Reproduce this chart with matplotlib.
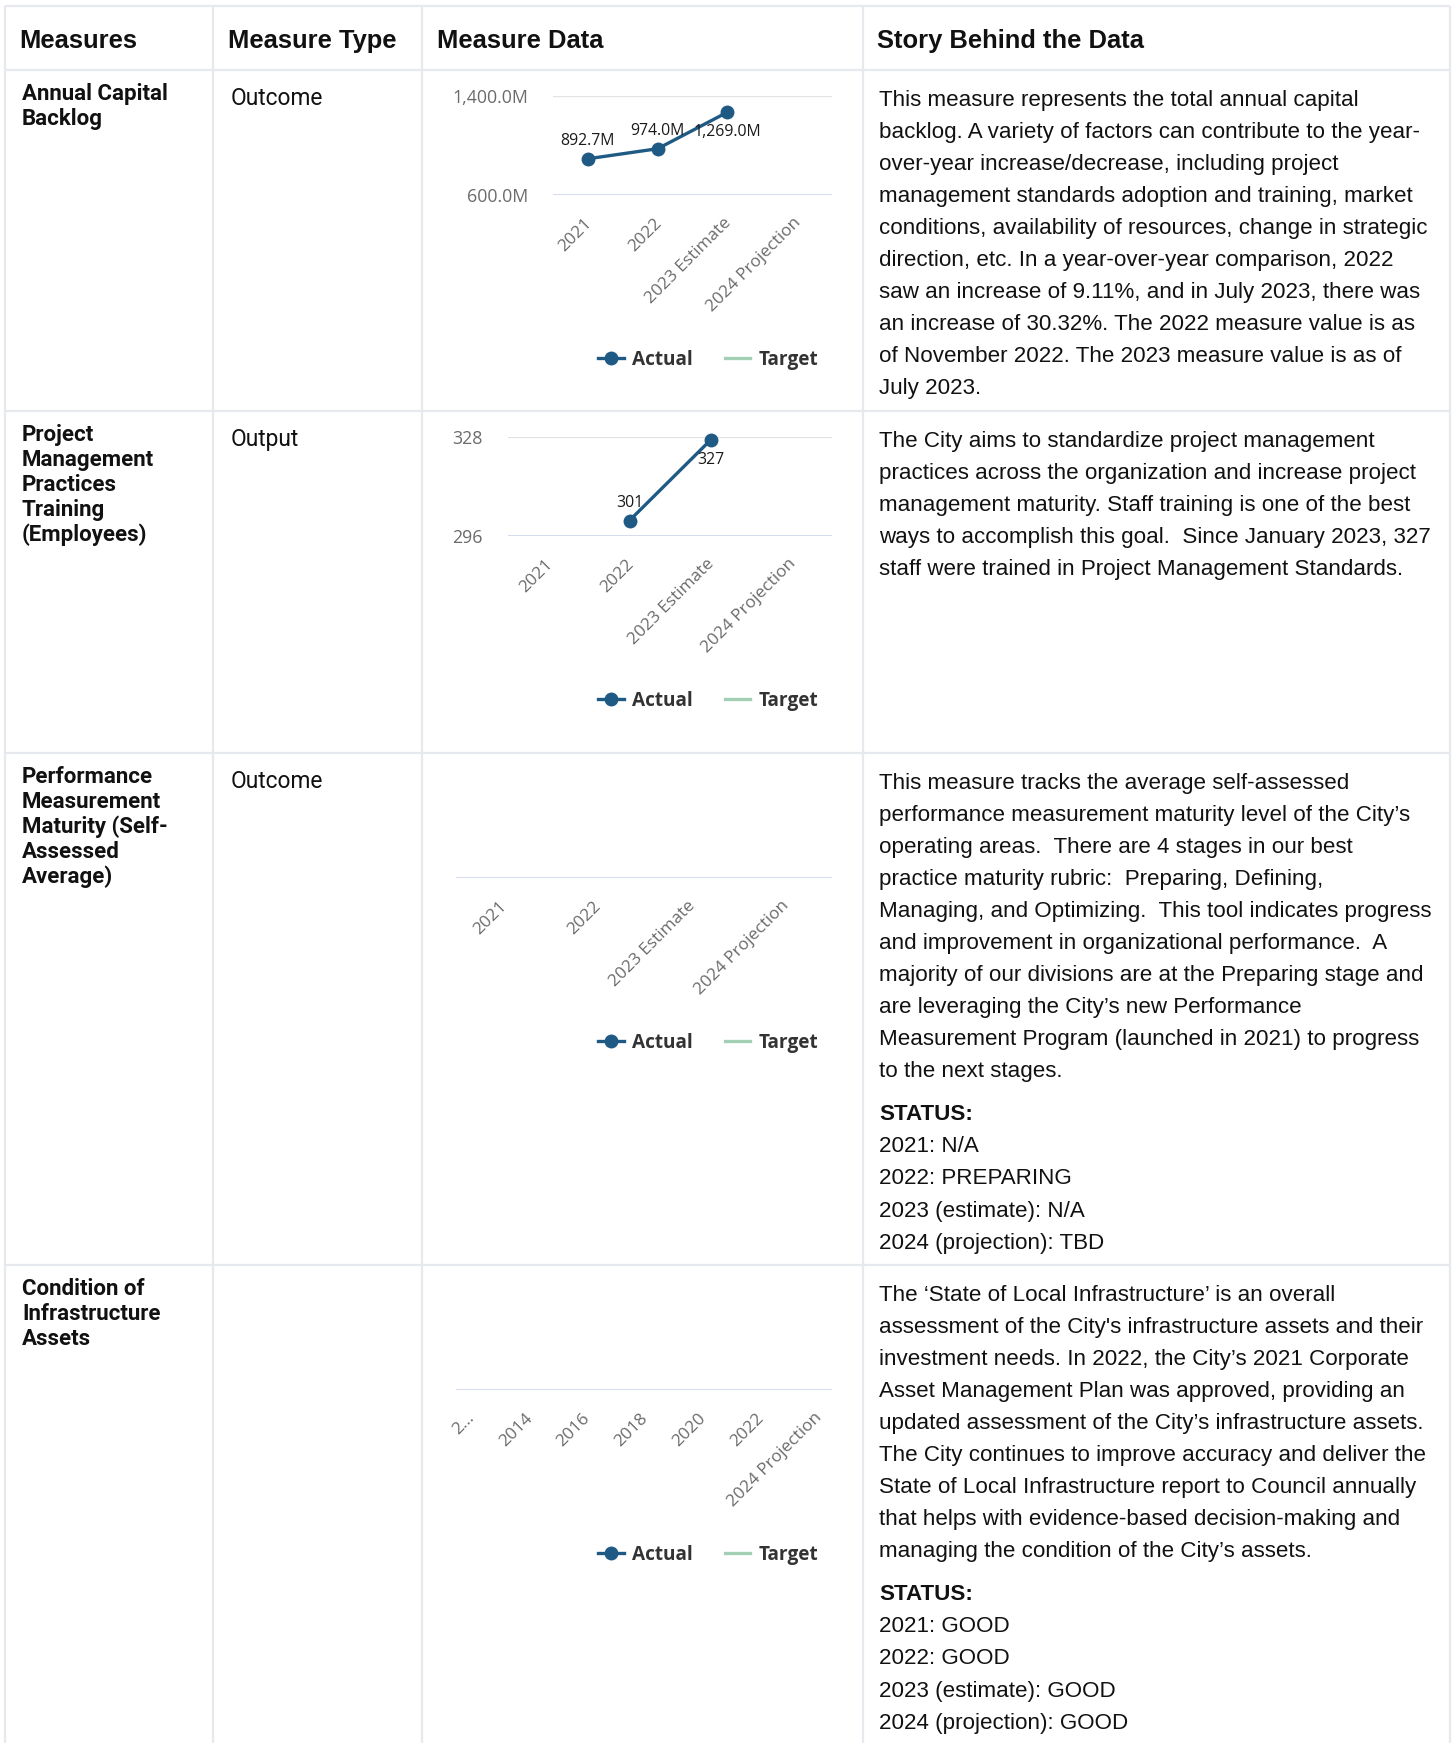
import matplotlib
matplotlib.use("Agg")
import matplotlib.pyplot as plt
from matplotlib.lines import Line2D
from matplotlib.transforms import ScaledTranslation

W, H = 1453, 1743
PT = 0.72  # px -> pt at dpi 100

# ---- table content ----
headers = ["Measures", "Measure Type", "Measure Data", "Story Behind the Data"]

measure_names = [
    ["Annual Capital", "Backlog"],
    ["Project", "Management", "Practices", "Training", "(Employees)"],
    ["Performance", "Measurement", "Maturity (Self-", "Assessed", "Average)"],
    ["Condition of", "Infrastructure", "Assets"],
]
measure_types = ["Outcome", "Output", "Outcome", ""]

story_text = [
    ["This measure represents the total annual capital",
     "backlog. A variety of factors can contribute to the year-",
     "over-year increase/decrease, including project",
     "management standards adoption and training, market",
     "conditions, availability of resources, change in strategic",
     "direction, etc. In a year-over-year comparison, 2022",
     "saw an increase of 9.11%, and in July 2023, there was",
     "an increase of 30.32%. The 2022 measure value is as",
     "of November 2022. The 2023 measure value is as of",
     "July 2023."],
    ["The City aims to standardize project management",
     "practices across the organization and increase project",
     "management maturity. Staff training is one of the best",
     "ways to accomplish this goal.  Since January 2023, 327",
     "staff were trained in Project Management Standards."],
    ["This measure tracks the average self-assessed",
     "performance measurement maturity level of the City\u2019s",
     "operating areas.  There are 4 stages in our best",
     "practice maturity rubric:  Preparing, Defining,",
     "Managing, and Optimizing.  This tool indicates progress",
     "and improvement in organizational performance.  A",
     "majority of our divisions are at the Preparing stage and",
     "are leveraging the City\u2019s new Performance",
     "Measurement Program (launched in 2021) to progress",
     "to the next stages."],
    ["The \u2018State of Local Infrastructure\u2019 is an overall",
     "assessment of the City's infrastructure assets and their",
     "investment needs. In 2022, the City\u2019s 2021 Corporate",
     "Asset Management Plan was approved, providing an",
     "updated assessment of the City\u2019s infrastructure assets.",
     "The City continues to improve accuracy and deliver the",
     "State of Local Infrastructure report to Council annually",
     "that helps with evidence-based decision-making and",
     "managing the condition of the City\u2019s assets."],
]
status_lines = [
    None,
    None,
    ["2021: N/A", "2022: PREPARING", "2023 (estimate): N/A", "2024 (projection): TBD"],
    ["2021: GOOD", "2022: GOOD", "2023 (estimate): GOOD", "2024 (projection): GOOD"],
]

# ---- chart data ----
cats_std = ["2021", "2022", "2023 Estimate", "2024 Projection"]
backlog_actual = [892.7, 974.0, 1269.0, None]          # millions
training_actual = [None, 301, 327, None]               # employees
maturity_actual = [None, None, None, None]
cats_infra = ["2012", "2013", "2014", "2015", "2016", "2017", "2018",
              "2019", "2020", "2021", "2022", "2023", "2024 Projection"]
infra_actual = [None] * len(cats_infra)

backlog_range = (600.0, 1400.0)
training_range = (296, 328)

# ---- layout (pixels) ----
col_x = [5, 213, 422, 863, 1450]
row_y = [6, 70, 411, 753, 1265, H]
GRID = "#e6e9ed"
BLUE = "#1f5a85"
GREEN = "#a3d0b5"

fig = plt.figure(figsize=(W / 100, H / 100), dpi=100)
fig.patch.set_facecolor("white")
bg = fig.add_axes([0, 0, 1, 1])
bg.set_xlim(0, W)
bg.set_ylim(H, 0)
bg.axis("off")

for x in col_x:
    bg.plot([x, x], [row_y[0], H], color=GRID, lw=1.6, solid_capstyle="butt")
for y in row_y[:-1]:
    bg.plot([col_x[0], col_x[-1]], [y, y], color=GRID, lw=1.6, solid_capstyle="butt")

# header
hdr_x = [19, 228, 437, 877]
for x, t in zip(hdr_x, headers):
    bg.text(x, 48, t, fontsize=25.5 * PT, fontweight="bold",
            family="Liberation Sans", color="#111111", va="baseline")

body_font = 22.35 * PT
for r in range(4):
    top = row_y[r + 1]
    for i, ln in enumerate(measure_names[r]):
        bg.text(22, top + 30 + i * 25, ln, fontsize=22.3 * PT, fontweight="bold",
                family="Roboto", color="#111111", va="baseline")
    if measure_types[r]:
        bg.text(231, top + 35, measure_types[r], fontsize=22.7 * PT,
                family="Roboto", color="#111111", va="baseline")
    y = top + 36
    for i, ln in enumerate(story_text[r]):
        bg.text(879, y, ln, fontsize=body_font, family="Liberation Sans",
                color="#111111", va="baseline")
        if i < len(story_text[r]) - 1:
            y += 32
    if status_lines[r]:
        y += 43.5
        bg.text(879, y, "STATUS:", fontsize=body_font, fontweight="bold",
                family="Liberation Sans", color="#111111", va="baseline")
        for ln in status_lines[r]:
            y += 32
            bg.text(879, y, ln, fontsize=body_font, family="Liberation Sans",
                    color="#111111", va="baseline")


def px_axes(x0, y0, x1, y1):
    return fig.add_axes([x0 / W, 1 - y1 / H, (x1 - x0) / W, (y1 - y0) / H])


def draw_chart(row, left, cats, values, yrange=None, fmt=None, tick_every=1,
               first_label=None):
    top = row_y[row + 1]
    ax = px_axes(left, top + 26, 832, top + 125)
    ax.set_facecolor("none")
    n = len(cats)
    ax.set_xlim(-0.5, n - 0.5)
    for s in ax.spines.values():
        s.set_visible(False)
    if yrange is not None:
        lo, hi = yrange
        ax.set_ylim(lo, hi)
        ax.axhline(hi, color="#e3e3e3", lw=1.6, zorder=1)
        ax.axhline(lo, color="#cfd8ec", lw=2.0, zorder=1)
        ax.set_yticks([lo, hi])
        ax.set_yticklabels([fmt(lo), fmt(hi)])
        ax.tick_params(axis="y", length=0, pad=25 * PT, labelsize=17.8 * PT,
                       labelcolor="#6b6b6b")
        for lab in ax.get_yticklabels():
            lab.set_family("Open Sans")
        xs = [i for i, v in enumerate(values) if v is not None]
        ys = [v for v in values if v is not None]
        ax.plot(xs, ys, color=BLUE, lw=2.4, marker="o", ms=9, zorder=3,
                clip_on=False)
        for x, v in zip(xs, ys):
            frac = (v - lo) / (hi - lo)
            dy = -14.5 if frac > 0.8 else 12.5
            ax.annotate(fmt(v), (x, v), xytext=(0, dy), textcoords="offset points",
                        ha="center", va="center", fontsize=15.9 * PT,
                        family="Open Sans", color="#1a1a1a", zorder=4)
    else:
        ax.set_ylim(0, 1)
        ax.axhline(0, color="#cfd8ec", lw=2.0, zorder=1)
        ax.set_yticks([])
    ticks = list(range(0, n, tick_every))
    labels = [cats[i] for i in ticks]
    if first_label is not None:
        labels[0] = first_label
    ax.set_xticks(ticks)
    ax.set_xticklabels(labels, rotation=45, ha="right", va="top",
                       rotation_mode="anchor", family="Open Sans",
                       fontsize=17.3 * PT, color="#6b6b6b")
    ax.tick_params(axis="x", length=0, pad=20 * PT)
    shift = ScaledTranslation(-4 / 100, 0, fig.dpi_scale_trans)
    for lab in ax.get_xticklabels():
        lab.set_transform(lab.get_transform() + shift)

    handles = [Line2D([], [], color=BLUE, lw=2.4, marker="o", ms=9),
               Line2D([], [], color=GREEN, lw=2.4)]
    leg = fig.legend(handles, ["Actual", "Target"], loc="center",
                     bbox_to_anchor=(708 / W, 1 - (top + 290) / H), ncol=2,
                     frameon=False, handlelength=1.35, handletextpad=0.42,
                     columnspacing=1.7,
                     prop={"family": "Open Sans", "weight": "bold",
                           "size": 19 * PT})
    for t in leg.get_texts():
        t.set_color("#333333")
    return ax


draw_chart(0, 553, cats_std, backlog_actual, backlog_range,
           fmt=lambda v: f"{v:,.1f}M")
draw_chart(1, 508, cats_std, training_actual, training_range,
           fmt=lambda v: f"{v:.0f}")
draw_chart(2, 456, cats_std, maturity_actual)
draw_chart(3, 456, cats_infra, infra_actual, tick_every=2, first_label="2...")

fig.savefig("out.png", dpi=100, facecolor="white")
